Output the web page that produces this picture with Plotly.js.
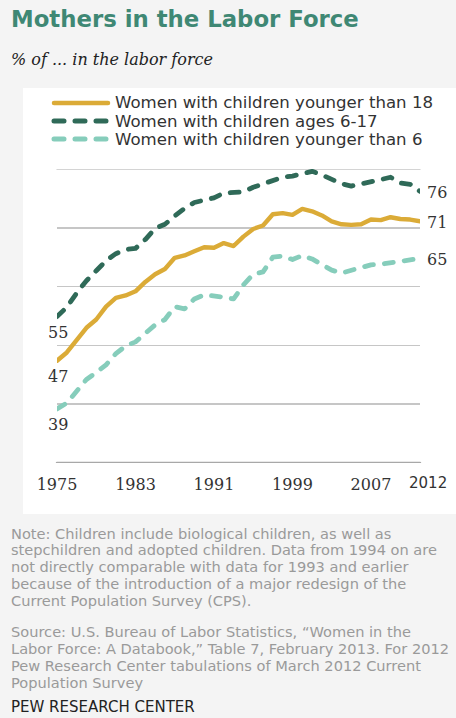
<!DOCTYPE html>
<html>
<head>
<meta charset="utf-8">
<script src="https://cdn.plot.ly/plotly-3.0.1.min.js"></script>
<style>
html,body{margin:0;padding:0;background:#f4f4f4;}
#chart{width:456px;height:718px;}
path.js-line{stroke-linecap:round;stroke-linejoin:round;}
.shapelayer path{stroke-linecap:round;}
</style>
</head>
<body>
<div id="chart"></div>
<script>
// ---- data ----
const years = [1975,1976,1977,1978,1979,1980,1981,1982,1983,1984,1985,1986,1987,1988,1989,1990,1991,1992,1993,
  1994,1995,1996,1997,1998,1999,2000,2001,2002,2003,2004,2005,2006,2007,2008,2009,2010,2011,2012];
const under18 = [47.4,48.8,50.9,53.0,54.4,56.6,58.1,58.5,59.2,60.8,62.1,63.0,64.9,65.3,66.0,66.7,66.6,67.4,66.9,
  68.5,69.8,70.4,72.3,72.5,72.2,73.2,72.8,72.1,71.1,70.6,70.5,70.6,71.4,71.3,71.8,71.5,71.4,71.1];
const ages6to17 = [54.9,56.5,58.9,61.0,62.7,64.4,65.6,66.3,66.5,68.0,69.9,70.6,72.0,73.3,74.3,74.7,75.1,75.9,75.9,
  76.1,76.9,77.4,78.1,78.6,78.8,79.2,79.6,79.0,78.2,77.5,77.1,77.4,77.9,78.2,78.6,77.6,77.4,76.2];
const under6 = [39.2,40.2,42.2,44.2,45.4,46.7,48.6,49.9,50.6,52.1,53.5,54.4,56.6,56.2,57.9,58.6,58.5,58.2,57.9,
  60.3,62.1,62.5,65.0,65.2,64.6,65.3,64.7,63.8,62.8,62.3,62.8,63.3,63.7,63.8,64.1,64.3,64.5,64.8];
const seriesNames = ["Women with children younger than 18","Women with children ages 6-17","Women with children younger than 6"];
const xTickVals = [1975,1983,1991,1999,2007];
const xTickText = ["1975","1983","1991","1999","2007"];
const lastTickLabel = "2012";

const colors = ["#dbab37","#2f6a58","#86cdbb"];
const dashes = ["solid","9px,11px","9px,11px"];

// pixel helpers (plot area: x 57..420, y 169..463)
const L=57,R=420,T=169,B=463;
const px = v => (v-L)/(R-L);
const py = v => (B-v)/(B-T);

const seriesData = [under18, ages6to17, under6];
const traces = seriesData.map((d,i)=>({
  x: years, y: d, type:'scatter', mode:'lines', name: seriesNames[i],
  line:{color:colors[i], width: i===0?4.4:4.8, dash:dashes[i]}, hoverinfo:'skip', showlegend:false
}));

const shapes = [{type:'rect', xref:'paper', yref:'paper', x0:px(23), x1:px(458), y0:py(514), y1:py(88),
  fillcolor:'#ffffff', line:{width:0}, layer:'below'}];
const annotations = [];

// title & subtitle
annotations.push({xref:'paper',yref:'paper',x:px(9),y:py(19),xanchor:'left',yanchor:'middle',showarrow:false,
  text:'<b>Mothers in the Labor Force</b>',font:{family:'DejaVu Sans',size:22.8,color:'#3f8874'}});
annotations.push({xref:'paper',yref:'paper',x:px(9),y:py(59),xanchor:'left',yanchor:'middle',showarrow:false,
  text:'<i>% of ... in the labor force</i>',font:{family:'DejaVu Serif',size:16,color:'#222'}});

// legend
const legY=[103,121,139];
seriesNames.forEach((n,i)=>{
  shapes.push({type:'line',xref:'paper',yref:'paper',x0:px(54),x1:px(108),y0:py(legY[i]),y1:py(legY[i]),
    line:{color:colors[i],width:i===0?4.5:5,dash:i===0?'solid':'10px,11px'}});
  annotations.push({xref:'paper',yref:'paper',x:px(113),y:py(legY[i]),xanchor:'left',yanchor:'middle',showarrow:false,
    text:n,font:{family:'DejaVu Sans',size:16.6,color:'#333'}});
});

// start & end labels
seriesData.forEach((d,i)=>{
  annotations.push({x:years[0],y:d[0],xref:'x',yref:'y',showarrow:false,xanchor:'center',yanchor:'middle',
    xshift:1,yshift:-16,text:String(Math.round(d[0])),font:{family:'DejaVu Serif',size:16,color:'#333'}});
  const n=d.length-1;
  annotations.push({x:years[n],y:d[n],xref:'x',yref:'y',showarrow:false,xanchor:'left',yanchor:'middle',
    xshift:5,yshift:-1,text:String(Math.round(d[n])),font:{family:'DejaVu Serif',size:16,color:'#333'}});
});

// last x tick label
annotations.push({x:2012,xref:'x',yref:'paper',y:py(483),xanchor:'center',yanchor:'middle',xshift:8,showarrow:false,
  text:lastTickLabel,font:{family:'DejaVu Sans',size:15,color:'#333'}});

// notes
const noteLines=["Note: Children include biological children, as well as",
"stepchildren and adopted children. Data from 1994 on are",
"not directly comparable with data for 1993 and earlier",
"because of the introduction of a major redesign of the",
"Current Population Survey (CPS)."];
const srcLines=["Source: U.S. Bureau of Labor Statistics, “Women in the",
"Labor Force: A Databook,” Table 7, February 2013. For 2012",
"Pew Research Center tabulations of March 2012 Current",
"Population Survey"];
noteLines.forEach((t,i)=>annotations.push({xref:'paper',yref:'paper',x:px(9),y:py(533+i*16.8),xanchor:'left',yanchor:'middle',
  showarrow:false,text:t,font:{family:'DejaVu Sans',size:14.6,color:'#9a9a9a'}}));
srcLines.forEach((t,i)=>annotations.push({xref:'paper',yref:'paper',x:px(9),y:py(631+i*17),xanchor:'left',yanchor:'middle',
  showarrow:false,text:t,font:{family:'DejaVu Sans',size:14.6,color:'#9a9a9a'}}));
annotations.push({xref:'paper',yref:'paper',x:px(9),y:py(707),xanchor:'left',yanchor:'middle',showarrow:false,
  text:'PEW RESEARCH CENTER',font:{family:'DejaVu Sans',size:15,color:'#222'}});

const layout={
  width:456,height:718,
  margin:{l:L,r:456-R,t:T,b:718-B,pad:0},
  paper_bgcolor:'#f4f4f4', plot_bgcolor:'rgba(0,0,0,0)',
  showlegend:false,
  xaxis:{range:[1975,2012],tickvals:xTickVals,ticktext:xTickText,showgrid:false,zeroline:false,
    showline:false,ticks:'',ticklabelstandoff:10,tickfont:{family:'DejaVu Serif',size:16,color:'#333'},fixedrange:true},
  yaxis:{range:[30,80],dtick:10,tick0:30,showticklabels:false,ticks:'',gridcolor:'#c6c6c6',gridwidth:1.5,
    zeroline:false,showline:false,fixedrange:true},
  shapes:shapes.concat([
    {type:'line',xref:'paper',yref:'y',x0:0,x1:1,y0:80,y1:80,line:{color:'#c6c6c6',width:1.5},layer:'below'},
    {type:'line',xref:'paper',yref:'y',x0:0,x1:1,y0:30,y1:30,line:{color:'#a8a8a8',width:2.5},layer:'below'}]),
  annotations:annotations
};
Plotly.newPlot('chart',traces,layout,{staticPlot:true,displayModeBar:false});
</script>
</body>
</html>
